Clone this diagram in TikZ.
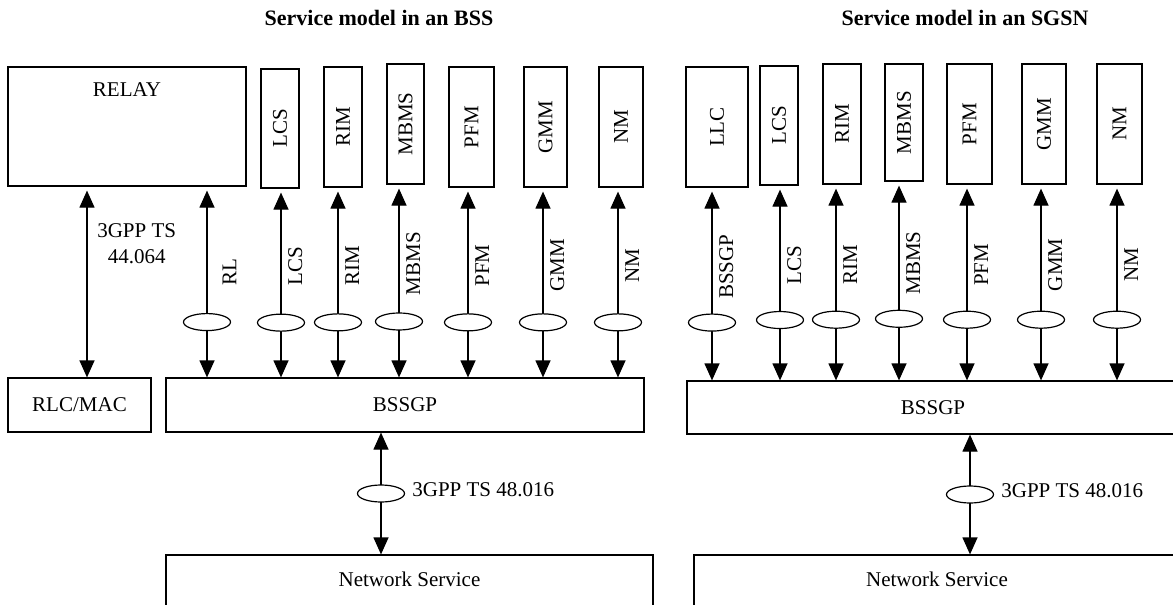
\documentclass[tikz,border=0pt]{standalone}
\usepackage{fontspec}
\setmainfont{Liberation Serif}
\usetikzlibrary{positioning, shapes.geometric, arrows.meta}

\begin{document}
\begin{tikzpicture}[x=0.5pt, y=-0.5pt, line width=0.6pt,
        font=\fontsize{10.5}{13}\selectfont,
        >={Triangle[length=8.5pt,width=7.5pt]},
        box/.style={draw, inner sep=0pt},
        vbox/.style={box, rotate=90, minimum width=60pt},
        ring/.style={ellipse, draw, fill=white, minimum width=23.5pt, minimum height=8.5pt, inner sep=0pt},
        sig/.style={rotate=90, anchor=north, pos=0.41},
        link/.style={<->, shorten <=2pt},
        head/.style={font=\fontsize{11}{13}\selectfont\bfseries}]
        \useasboundingbox (0,0) rectangle (1173,605);
        \clip (0,0) rectangle (1173,605);

        \node[head] (headL) at (379,18) {Service model in an BSS};
        \node[head] (headR) at (965,18) {Service model in an SGSN};

        % BSS
        \node[box, minimum width=119pt, minimum height=59.5pt] (relay) at (127,126.5) {};
        \node (relaytxt) at (127,90) {RELAY};
        \node[vbox, minimum width=59.5pt, minimum height=19pt] (lcsL) at (280,128.5) {LCS};
        \node[vbox, minimum height=19pt] (rimL) at (343,127) {RIM};
        \node[vbox, minimum height=18.5pt] (mbmsL) at (405.5,124) {MBMS};
        \node[vbox, minimum height=22.5pt] (pfmL) at (471.5,127) {PFM};
        \node[vbox, minimum height=21.5pt] (gmmL) at (545.5,127) {GMM};
        \node[vbox, minimum height=22pt] (nmL) at (621,127) {NM};

        \node[box, minimum width=71.5pt, minimum height=27pt] (rlc) at (79.5,405) {RLC/MAC};
        \node[box, minimum width=239pt, minimum height=27pt] (bssL) at (405,405) {BSSGP};
        \node[box, minimum width=243.5pt, minimum height=35pt] (netL) at (409.5,590) {};
        \node (netLtxt) at (409.5,579) {Network Service};

        \path[link] (87,0 |- relay.south) edge node[pos=0.3, right=1.5pt, align=center] (specA) {3GPP TS\\44.064} (87,0 |- rlc.north);
        \path[link] (207,0 |- relay.south) edge node[ring, pos=0.71] (ringRL) {} node[sig, pos=0.45, inner sep=7.5pt] (sigRL) {RL} (207,0 |- bssL.north);
        \path[link] (281,0 |- lcsL.west) edge node[ring, pos=0.71] (ringLcsL) {} node[sig] (sigLcsL) {LCS} (281,0 |- bssL.north);
        \path[link] (338,0 |- rimL.west) edge node[ring, pos=0.71] (ringRimL) {} node[sig] (sigRimL) {RIM} (338,0 |- bssL.north);
        \path[link] (399,0 |- mbmsL.west) edge node[ring, pos=0.71] (ringMbmsL) {} node[sig] (sigMbmsL) {MBMS} (399,0 |- bssL.north);
        \path[link] (468,0 |- pfmL.west) edge node[ring, pos=0.71] (ringPfmL) {} node[sig] (sigPfmL) {PFM} (468,0 |- bssL.north);
        \path[link] (543,0 |- gmmL.west) edge node[ring, pos=0.71] (ringGmmL) {} node[sig] (sigGmmL) {GMM} (543,0 |- bssL.north);
        \path[link] (618,0 |- nmL.west) edge node[ring, pos=0.71] (ringNmL) {} node[sig] (sigNmL) {NM} (618,0 |- bssL.north);

        \path[<->] (381,0 |- bssL.south) edge node[ring] (ringNL) {} (381,0 |- netL.north);
        \node[right=0pt of ringNL, yshift=2pt] (specNL) {3GPP TS 48.016};

        % SGSN
        \node[vbox, minimum height=31pt] (llcR) at (717,127) {LLC};
        \node[vbox, minimum width=59.5pt, minimum height=19pt] (lcsR) at (779,125.5) {LCS};
        \node[vbox, minimum height=19pt] (rimR) at (842,124) {RIM};
        \node[vbox, minimum width=58.5pt, minimum height=19pt] (mbmsR) at (904,122.5) {MBMS};
        \node[vbox, minimum height=22.5pt] (pfmR) at (969.5,124) {PFM};
        \node[vbox, minimum height=22pt] (gmmR) at (1044,124) {GMM};
        \node[vbox, minimum height=22.5pt] (nmR) at (1119.5,124) {NM};

        \node[box, minimum width=246pt, minimum height=26.5pt] (bssR) at (933,407.5) {BSSGP};
        \node[box, minimum width=243pt, minimum height=35pt] (netR) at (937,590) {};
        \node (netRtxt) at (937,579) {Network Service};

        \path[link] (712,0 |- llcR.west) edge node[ring, pos=0.70] (ringLlcR) {} node[sig] (sigLlcR) {BSSGP} (712,0 |- bssR.north);
        \path[link] (780,0 |- lcsR.west) edge node[ring, pos=0.69] (ringLcsR) {} node[sig] (sigLcsR) {LCS} (780,0 |- bssR.north);
        \path[link] (836,0 |- rimR.west) edge node[ring, pos=0.69] (ringRimR) {} node[sig] (sigRimR) {RIM} (836,0 |- bssR.north);
        \path[link] (899,0 |- mbmsR.west) edge node[ring, pos=0.69] (ringMbmsR) {} node[sig] (sigMbmsR) {MBMS} (899,0 |- bssR.north);
        \path[link] (967,0 |- pfmR.west) edge node[ring, pos=0.69] (ringPfmR) {} node[sig] (sigPfmR) {PFM} (967,0 |- bssR.north);
        \path[link] (1041,0 |- gmmR.west) edge node[ring, pos=0.69] (ringGmmR) {} node[sig] (sigGmmR) {GMM} (1041,0 |- bssR.north);
        \path[link] (1117,0 |- nmR.west) edge node[ring, pos=0.69] (ringNmR) {} node[sig] (sigNmR) {NM} (1117,0 |- bssR.north);

        \path[<->] (970,0 |- bssR.south) edge node[ring] (ringNR) {} (970,0 |- netR.north);
        \node[right=0pt of ringNR, yshift=2pt] (specNR) {3GPP TS 48.016};
\end{tikzpicture}
\end{document}
